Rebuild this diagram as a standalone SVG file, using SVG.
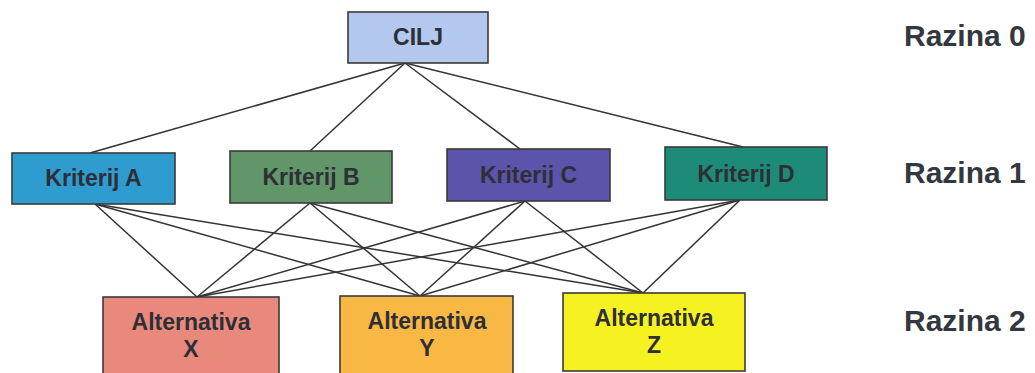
<svg xmlns="http://www.w3.org/2000/svg" width="1035" height="373" viewBox="0 0 1035 373">
<style>
.box{stroke:#3a3a3a;stroke-width:1.6}
.t{font-family:"Liberation Sans",Arial,sans-serif;font-weight:bold;fill:#2e2e36;text-anchor:middle}
.lvl{font-family:"Liberation Sans",Arial,sans-serif;font-weight:bold;fill:#333840;font-size:30px}
#connectors line{stroke:#333;stroke-width:1.5}
</style>
<rect width="1035" height="373" fill="#ffffff"/>
<g id="connectors">
<line x1="405" y1="63" x2="90" y2="153"/>
<line x1="405" y1="63" x2="310" y2="151"/>
<line x1="405" y1="63" x2="520" y2="149"/>
<line x1="405" y1="63" x2="743" y2="147"/>
<line x1="95" y1="204" x2="197" y2="297"/>
<line x1="95" y1="204" x2="420" y2="296"/>
<line x1="95" y1="204" x2="643" y2="293"/>
<line x1="310" y1="203" x2="197" y2="297"/>
<line x1="310" y1="203" x2="420" y2="296"/>
<line x1="310" y1="203" x2="643" y2="293"/>
<line x1="525" y1="201" x2="197" y2="297"/>
<line x1="525" y1="201" x2="420" y2="296"/>
<line x1="525" y1="201" x2="643" y2="293"/>
<line x1="740" y1="200" x2="197" y2="297"/>
<line x1="740" y1="200" x2="420" y2="296"/>
<line x1="740" y1="200" x2="643" y2="293"/>
</g>
<g id="cilj">
<rect class="box" x="348" y="12" width="140" height="51" fill="#b3c8ee"/>
<text class="t" x="418" y="45" font-size="23">CILJ</text>
</g>
<g id="kriterij-a">
<rect class="box" x="12" y="153" width="163" height="51" fill="#2f9ccf"/>
<text class="t" x="93.5" y="186" font-size="23">Kriterij A</text>
</g>
<g id="kriterij-b">
<rect class="box" x="230" y="151" width="162" height="52" fill="#609668"/>
<text class="t" x="311" y="185" font-size="23">Kriterij B</text>
</g>
<g id="kriterij-c">
<rect class="box" x="447" y="149" width="163" height="52" fill="#5b54aa"/>
<text class="t" x="528.5" y="183" font-size="23">Kriterij C</text>
</g>
<g id="kriterij-d">
<rect class="box" x="665" y="147" width="162" height="53" fill="#1d8b78"/>
<text class="t" x="746" y="182" font-size="23">Kriterij D</text>
</g>
<g id="alternativa-x">
<rect class="box" x="103" y="297" width="176" height="80" fill="#e8897b"/>
<text class="t" x="191" y="330" font-size="23">Alternativa</text>
<text class="t" x="191" y="357" font-size="23">X</text>
</g>
<g id="alternativa-y">
<rect class="box" x="340" y="296" width="173" height="80" fill="#f8b843"/>
<text class="t" x="427" y="329" font-size="23">Alternativa</text>
<text class="t" x="427" y="356" font-size="23">Y</text>
</g>
<g id="alternativa-z">
<rect class="box" x="563" y="293" width="182" height="78" fill="#f6f222"/>
<text class="t" x="654" y="326" font-size="23">Alternativa</text>
<text class="t" x="654" y="353" font-size="23">Z</text>
</g>
<g id="razine">
<text class="lvl" x="904" y="46">Razina 0</text>
<text class="lvl" x="904" y="183">Razina 1</text>
<text class="lvl" x="904" y="331">Razina 2</text>
</g>
</svg>
